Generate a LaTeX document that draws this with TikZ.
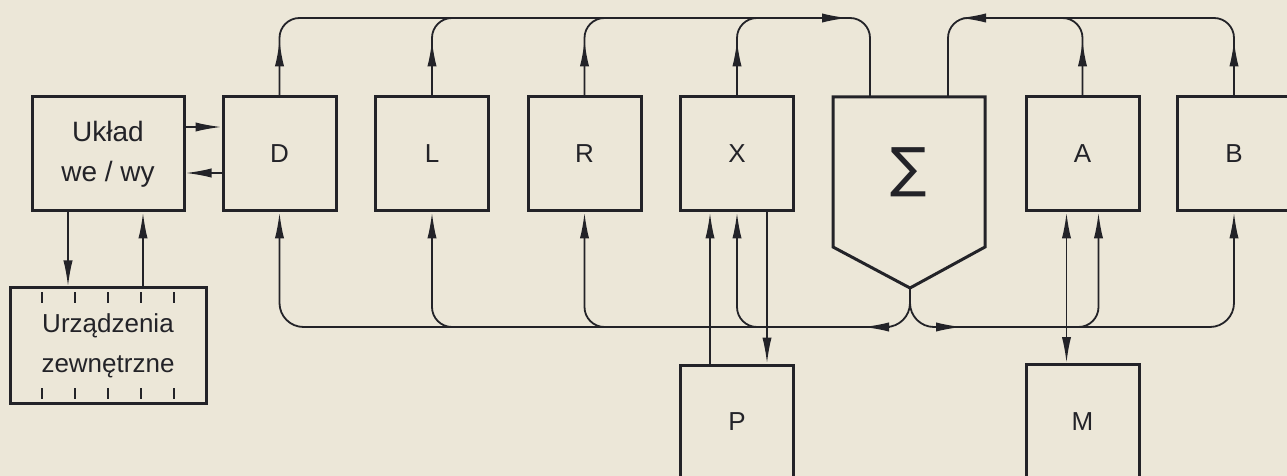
\documentclass[tikz,border=0pt]{standalone}
\usepackage{fontspec}
\setmainfont{Liberation Sans}
\newfontfamily\symfont{DejaVu Sans}
\usetikzlibrary{calc}
\usetikzlibrary{positioning}
\usetikzlibrary{arrows.meta}

\definecolor{paper}{RGB}{236,231,216}
\definecolor{ink}{RGB}{35,35,40}

\tikzset{
  reg/.style={draw=ink, line width=1.5pt, minimum width=56.5pt, minimum height=57pt,
    inner sep=0pt, text=ink, font=\fontsize{13}{13}\selectfont},
  wire/.style={draw=ink, line width=0.9pt},
  >={Latex[length=13pt,width=4.6pt]},
}

\begin{document}
\begin{tikzpicture}[x=0.5pt, y=-0.5pt]
    \fill[paper] (0,0) rectangle (1287,476);
    \useasboundingbox (0,0) rectangle (1287,476);

    % I/O unit and peripherals
    \node[reg, minimum width=76pt, align=center, font=\fontsize{14}{20}\selectfont] (U) at (108,154) {Układ\\we / wy};
    \node[reg, minimum width=98pt, minimum height=57.5pt, align=center, font=\fontsize{13}{20}\selectfont] (E) at (108,345.5) {Urządzenia\\zewnętrzne};
    \foreach \dx in {-66,-33,0,33,66} {
        \draw[ink, line width=0.6pt] ($(E.north)+(\dx,6)$) -- ++(0,11);
        \draw[ink, line width=0.6pt] ($(E.south)+(\dx,-6)$) -- ++(0,-11);
    }

    % registers
    \node[reg] (D) at (279.5,154) {D};
    \node[reg] (L) at (432,154) {L};
    \node[reg] (R) at (584.5,154) {R};
    \node[reg] (X) at (737,154) {X};
    \node[reg] (A) at (1082.5,154) {A};
    \node[reg] (B) at (1234,154) {B};
    \node[reg] (P) at (737,422) {P};
    \node[reg] (M) at (1082.5,421.5) {M};

    % adder
    \coordinate (s1) at (833,97);
    \coordinate (s2) at (985,97);
    \coordinate (s3) at (985,247);
    \coordinate (sOut) at (910,288);
    \coordinate (s5) at (833,247);
    \draw[ink, line width=1.5pt] (s1) -- (s2) -- (s3) -- (sOut) -- (s5) -- cycle;
    \node[text=ink, inner sep=0pt] (S) at (909,172) {\symfont\fontsize{27}{27}\selectfont ∑};
    \coordinate (sA) at (870,97);
    \coordinate (sB) at (948,97);

    \coordinate (topbus) at (0,18);
    \coordinate (botbus) at (0,327);

    % outputs going up
    \foreach \r in {D,L,R,X,A,B}
        \draw[wire,->] (\r.north) -- ++(0,-55);

    % top bus into the adder, left side
    \draw[wire, rounded corners=10] (D.north) -- (D.north |- topbus) -- (sA |- topbus) -- (sA);
    \foreach \r in {L,R,X}
        \draw[wire, rounded corners=10] (\r.north) -- (\r.north |- topbus) -- ++(30,0);
    \draw[wire,->] ($(sA |- topbus)+(-50,0)$) -- ($(sA |- topbus)+(-22,0)$);

    % top bus into the adder, right side
    \draw[wire, rounded corners=10] (sB) -- (sB |- topbus) -- (B.north |- topbus) -- (B.north);
    \draw[wire, rounded corners=10] (A.north) -- (A.north |- topbus) -- ++(-30,0);
    \draw[wire,->] ($(sB |- topbus)+(45,0)$) -- ($(sB |- topbus)+(12,0)$);

    % result bus
    \draw[wire,->, rounded corners=12] (sOut) -- (sOut |- botbus) -- (D.south |- botbus) -- (D.south);
    \draw[wire,->, rounded corners=12] (sOut) -- (sOut |- botbus) -- (B.south |- botbus) -- (B.south);
    \draw[wire,->] ($(sOut |- botbus)+(-20,0)$) -- ($(sOut |- botbus)+(-47,0)$);
    \draw[wire,->] ($(sOut |- botbus)+(23,0)$) -- ($(sOut |- botbus)+(52,0)$);
    \foreach \r in {L,R,X}
        \draw[wire,->, rounded corners=10] ($(\r.south |- botbus)+(30,0)$) -- (\r.south |- botbus) -- (\r.south);
    \coordinate (a2) at ($(A.south)+(16,0)$);
    \draw[wire,->, rounded corners=10] ($(a2 |- botbus)+(-30,0)$) -- (a2 |- botbus) -- (a2);

    % X <-> P, A <-> M
    \coordinate (x1) at ($(X.south)+(-27,0)$);
    \coordinate (x3) at ($(X.south)+(30,0)$);
    \draw[wire,->] (x1 |- P.north) -- (x1);
    \draw[wire,->] (x3) -- (x3 |- P.north);
    \coordinate (a1) at ($(A.south)+(-16,0)$);
    \draw[wire,<->] (a1 |- M.north) -- (a1);

    % I/O links
    \draw[wire,->] ($(U.east)+(0,-27)$) -- ($(D.west)+(0,-27)$);
    \draw[wire,->] ($(D.west)+(0,19)$) -- ($(U.east)+(0,19)$);
    \draw[wire,->] ($(U.south)+(-40,0)$) -- ($(E.north)+(-40,0)$);
    \draw[wire,->] ($(E.north)+(35,0)$) -- ($(U.south)+(35,0)$);
\end{tikzpicture}
\end{document}
